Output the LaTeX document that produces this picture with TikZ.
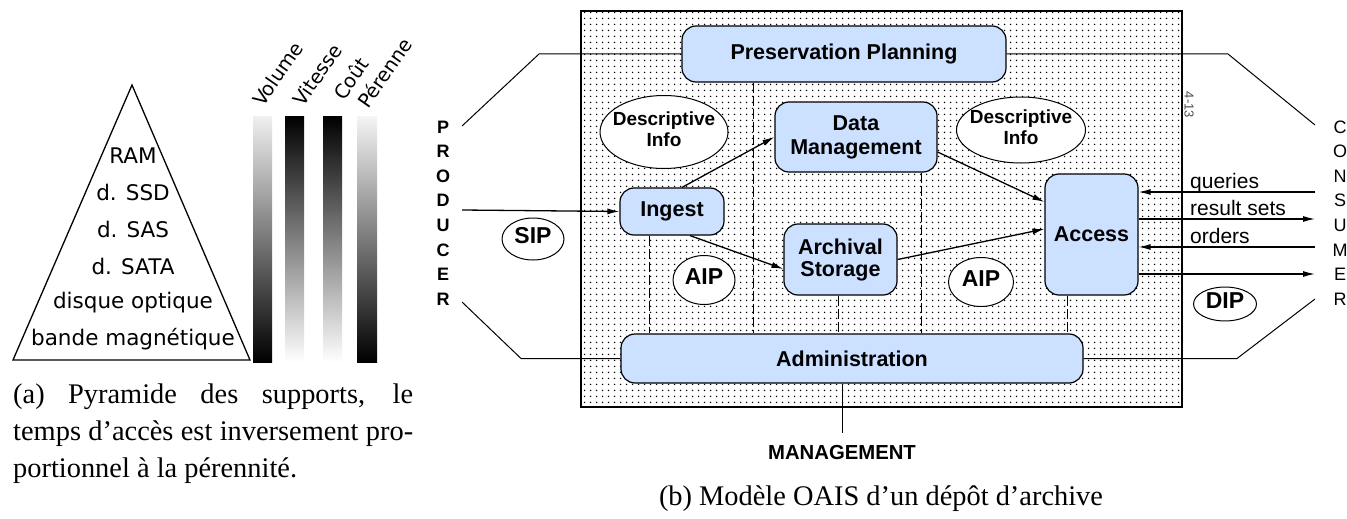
\documentclass[tikz,border=0pt]{standalone}
\usepackage{fontspec}
\setmainfont{Liberation Serif}
\newfontfamily\oaisfont{Liberation Sans}
\newfontfamily\pyrfont{DejaVu Sans}
\usepackage{tikz}
\usetikzlibrary{positioning,arrows.meta,shapes.geometric,patterns.meta}
\usepackage{xcolor}

\definecolor{oaisblue}{RGB}{204,224,255}
\newcommand\elllbl[1]{\makebox[0pt]{\begin{tabular}{@{}c@{}}#1\end{tabular}}}

\tikzdeclarepattern{name=oaisdots, type=uncolored,
  bounding box={(0pt,0pt) and (6pt,6pt)}, tile size={(6pt,6pt)},
  code={\fill (3pt,3pt) circle (0.9pt);}}

\tikzset{
  oaisbox/.style={draw, line width=1.2pt, fill=oaisblue, rounded corners=14pt, align=center,
    inner sep=0pt, font=\oaisfont\bfseries\fontsize{21.5}{24}\selectfont},
  infoell/.style={ellipse, draw, line width=1pt, fill=white, inner sep=0pt,
    font=\oaisfont\bfseries\fontsize{19}{21}\selectfont},
  pkgell/.style={infoell, font=\oaisfont\bfseries\fontsize{23}{24}\selectfont},
  flow/.style={line width=1.3pt, -{Latex[length=12pt,width=6pt]}},
  guide/.style={line width=1pt, dash pattern=on 10pt off 3pt},
  ctx/.style={line width=1pt},
  flowlabel/.style={font=\oaisfont\fontsize{21}{24}\selectfont, inner sep=0pt, anchor=base west},
  entity/.style={align=center, inner sep=0pt, font=\oaisfont\fontsize{18}{24.6}\selectfont},
  pyrlabel/.style={font=\pyrfont\fontsize{21.5}{24}\selectfont, inner sep=0pt, anchor=base},
  barlabel/.style={font=\pyrfont\fontsize{19.5}{20}\selectfont, inner sep=0pt, rotate=55, anchor=base west},
  captext/.style={font=\fontsize{28.4}{37}\selectfont, inner sep=0pt, anchor=base west},
}

\begin{document}
\begin{tikzpicture}[x=1pt, y=-1pt]
  \useasboundingbox (0,0) rectangle (1347,519);

  % Pyramid of media
  \coordinate (apex) at (132,85);
  \coordinate (baseL) at (13,360);
  \coordinate (baseR) at (250,360);
  \draw[line width=1.3pt, line join=miter] (baseL) -- (apex) -- (baseR) -- cycle;
  \node[pyrlabel] (ram) at (133,163) {RAM};
  \node[pyrlabel] (ssd) at (133,200) {d. SSD};
  \node[pyrlabel] (sas) at (133,237) {d. SAS};
  \node[pyrlabel] (sata) at (133,274) {d. SATA};
  \node[pyrlabel] (optic) at (133,308) {disque optique};
  \node[pyrlabel] (tape) at (133,345) {bande magnétique};

  % Gradient bars
  \shade[top color=black!6, bottom color=black] (253,116) rectangle (272,362);
  \shade[top color=black, bottom color=white] (285,116) rectangle (304,362);
  \shade[top color=black, bottom color=white] (323,116) rectangle (342,362);
  \shade[top color=black!4, bottom color=black] (357,116) rectangle (377,362);
  \node[barlabel] (volume) at (263,108) {Volume};
  \node[barlabel] (speed) at (303,108) {Vitesse};
  \node[barlabel] (cost) at (344,102) {Coût};
  \node[barlabel] (lasting) at (368,110) {Pérenne};

  % Caption (a)
  \node[captext] (capa1) at (13,403) {\makebox[400pt][s]{(a) Pyramide des supports, le}};
  \node[captext] (capa2) at (13,440) {\makebox[400pt][s]{temps d’accès est inversement pro-}};
  \node[captext] (capa3) at (13,477) {portionnel à la pérennité.};

  % Archive frame
  \draw[line width=1.5pt, pattern=oaisdots, pattern color=black] (581,11) rectangle (1182,407);
  \node[rotate=-90, inner sep=0pt, text=black!70, font=\oaisfont\fontsize{13}{14}\selectfont] (pagenum) at (1189,105) {4-13};

  % Functional entities
  \node[oaisbox, minimum width=324pt, minimum height=56pt] (plan) at (844,54) {Preservation Planning};
  \node[oaisbox, minimum width=162pt, minimum height=70pt] (datamgmt) at (856,137) {Data\\Management};
  \node[oaisbox, minimum width=104pt, minimum height=47pt] (ingest) at (672,211.5) {Ingest};
  \node[oaisbox, minimum width=113pt, minimum height=71pt, font=\oaisfont\bfseries\fontsize{21.5}{22}\selectfont] (archival) at (840.5,259.5) {Archival\\Storage};
  \node[oaisbox, minimum width=93pt, minimum height=121pt] (access) at (1091.5,234.5) {Access};
  \node[oaisbox, minimum width=462pt, minimum height=49pt] (admin) at (852,358.5) {Administration};

  % Information packages
  \node[infoell, minimum width=128pt, minimum height=73pt] (descl) at (664,132) {\elllbl{Descriptive\\Info}};
  \node[infoell, minimum width=129pt, minimum height=66pt] (descr) at (1021,130) {\elllbl{Descriptive\\Info}};
  \node[pkgell, minimum width=62pt, minimum height=42pt] (sip) at (533,239) {\elllbl{SIP}};
  \node[pkgell, minimum width=62pt, minimum height=49pt] (aipl) at (704,280) {\elllbl{AIP}};
  \node[pkgell, minimum width=65pt, minimum height=49pt] (aipr) at (981,282) {\elllbl{AIP}};
  \node[pkgell, minimum width=63pt, minimum height=33pt] (dip) at (1225,304) {\elllbl{DIP}};

  % Producer, consumer, management
  \node[entity, font=\oaisfont\bfseries\fontsize{18}{24.6}\selectfont] (producer) at (443,213) {P\\R\\O\\D\\U\\C\\E\\R};
  \node[entity] (consumer) at (1340,213) {C\\O\\N\\S\\U\\M\\E\\R};
  \node[inner sep=0pt, font=\oaisfont\bfseries\fontsize{20.3}{22}\selectfont] (mgmt) at (842,453) {MANAGEMENT};

  % Free ends of the outside links
  \coordinate (prodtop) at (462,126);
  \coordinate (prodin) at (462,210);
  \coordinate (prodbot) at (462,302);
  \coordinate (constop) at (1315,125);
  \coordinate (consbot) at (1315,299);

  % Ports on the Access box
  \coordinate (accq) at ([yshift=42.5pt]access.east);
  \coordinate (accr) at ([yshift=15.5pt]access.east);
  \coordinate (acco) at ([yshift=-12.5pt]access.east);
  \coordinate (accd) at ([yshift=-39.5pt]access.east);

  % Dashed guides
  \draw[guide] (753,0 |- plan.south) -- (753,0 |- admin.north);
  \draw[guide] (649,0 |- ingest.south) -- (649,0 |- admin.north);
  \draw[guide] (838,0 |- archival.south) -- (838,0 |- admin.north);
  \draw[guide] (921,0 |- datamgmt.south) -- (921,0 |- admin.north);
  \draw[guide] (1067,0 |- access.south) -- (1067,0 |- admin.north);

  % Outside links
  \draw[ctx] (plan.west) -- (539,0 |- plan.west) -- (prodtop);
  \draw[ctx] (plan.east) -- (1228,0 |- plan.east) -- (constop);
  \draw[ctx] (admin.west) -- (521,0 |- admin.west) -- (prodbot);
  \draw[ctx] (admin.east) -- (1237,0 |- admin.east) -- (consbot);
  \draw[ctx] (mgmt.north |- admin.south) -- ([yshift=13pt]mgmt.north);

  % Flows
  \draw[flow] (prodin) -- (ingest.west);
  \draw[flow] ([xshift=10pt]ingest.north) -- (datamgmt.west);
  \draw[flow] ([xshift=18pt]ingest.south) -- ([yshift=-9.5pt]archival.west);
  \draw[flow] ([yshift=-15pt]datamgmt.east) -- ([yshift=32.5pt]access.west);
  \draw[flow] (archival.east) -- ([yshift=5.5pt]access.west);
  \draw[flow] (1315,0 |- accq) -- (accq);
  \draw[flow] (accr) -- (1315,0 |- accr);
  \draw[flow] (1315,0 |- acco) -- (acco);
  \draw[flow] (accd) -- (1315,0 |- accd);
  \node[flowlabel] (queries) at (1190,188) {queries};
  \node[flowlabel] (results) at (1190,215) {result sets};
  \node[flowlabel] (orders) at (1190,243) {orders};

  % Caption (b)
  \node[captext, anchor=base] (capb) at (881,505) {(b) Modèle OAIS d’un dépôt d’archive};
\end{tikzpicture}
\end{document}
